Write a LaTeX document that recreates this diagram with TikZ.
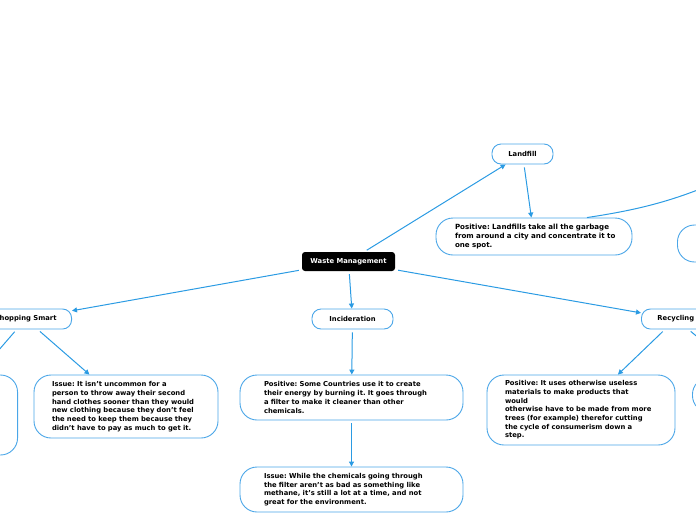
\documentclass[tikz,border=0pt]{standalone}
\usepackage{fontspec}
\setmainfont{DejaVu Sans}
\usetikzlibrary{arrows.meta,positioning}
\definecolor{linkblue}{HTML}{2B9BE3}
\definecolor{edgeblue}{HTML}{4AA6E8}
\frenchspacing

\begin{document}
\begin{tikzpicture}[x=1pt, y=-1pt,
  font=\fontsize{6.8}{8.7}\selectfont\bfseries,
  root/.style={fill=black, text=white, rounded corners=3pt, minimum width=93pt, minimum height=19pt, inner xsep=0pt},
  topic/.style={draw=edgeblue, line width=0.9pt, fill=white, rounded corners=9pt, minimum height=20pt, inner xsep=16pt, inner ysep=0pt},
  note/.style={draw=edgeblue, line width=0.9pt, fill=white, rounded corners=17pt, align=left, inner xsep=19pt, inner ysep=3pt},
  link/.style={draw=linkblue, line width=1pt, -{Triangle[length=5pt,width=5pt]}, shorten <=3pt}]
\useasboundingbox (0,0) rectangle (696,520);
\clip (0,0) rectangle (696,520);
\node[root] (wm) at (348.5,261.5) {Waste Management};
\node[topic, minimum width=61pt, inner xsep=0pt] (landfill) at (522.5,154) {Landfill};
\node[note, font=\fontsize{7.1}{8.6}\selectfont\bfseries, inner xsep=19pt, text width=158pt, minimum height=37pt] (lfpos) at (534,236.5) {\mbox{Positive: Landfills take all the garbage}\\\mbox{from around a city and concentrate it to}\\one spot.};
\node[note, anchor=west, minimum width=150pt, minimum height=37pt] (rnote) at (677,243.5) {};
\coordinate (offright) at (740,172);
\node[topic, anchor=east, inner xsep=15pt] (shop) at (72,319) {Shopping Smart};
\node[note, inner xsep=18pt, text width=148pt, minimum height=63pt] (shopissue) at (126,406.5) {Issue: It isn't uncommon for a\\person to throw away their second\\hand clothes sooner than they would\\new clothing because they don't feel\\the need to keep them because they\\didn't have to pay as much to get it.};
\node[note, anchor=east, minimum width=150pt, minimum height=80pt] (lnote) at (18,415) {};
\node[topic, minimum width=81pt, inner xsep=0pt] (incid) at (352.5,319) {Incideration};
\node[note, inner xsep=24pt, text width=175pt, minimum height=45pt] (incpos) at (351.5,397.5) {Positive: Some Countries use it to create\\their energy by burning it. It goes through\\a filter to make it cleaner than other\\chemicals.};
\node[note, inner xsep=24pt, text width=175pt, minimum height=45pt] (incissue) at (351.5,489.5) {Issue: While the chemicals going through\\the filter aren't as bad as something like\\methane, it's still a lot at a time, and not\\great for the environment.};
\node[topic, anchor=west] (recyc) at (641,319) {Recycling};
\node[note, inner xsep=18pt, text width=152pt, minimum height=70pt] (recpos) at (581,410) {Positive: It uses otherwise useless\\materials to make products that\\would\\otherwise have to be made from more\\trees (for example) therefor cutting\\the cycle of consumerism down a\\step.};
\node[note, anchor=west, minimum width=150pt, minimum height=35pt] (rnote2) at (692,395) {};
\draw[link] (wm) -- (landfill);
\draw[link] (landfill) -- (lfpos);
\draw[linkblue, line width=1pt] ([xshift=53pt]lfpos.north) to[bend right=8] (offright);
\draw[link] (wm) -- (shop);
\draw[link] (shop) -- (shopissue);
\draw[link] (shop) -- (lnote);
\draw[link] (wm) -- (incid);
\draw[link] (incid) -- (incpos);
\draw[link] (incpos) -- (incissue);
\draw[link] (wm) -- (recyc);
\draw[link] (recyc) -- (recpos);
\draw[link] (recyc) -- (rnote2);
\end{tikzpicture}
\end{document}
